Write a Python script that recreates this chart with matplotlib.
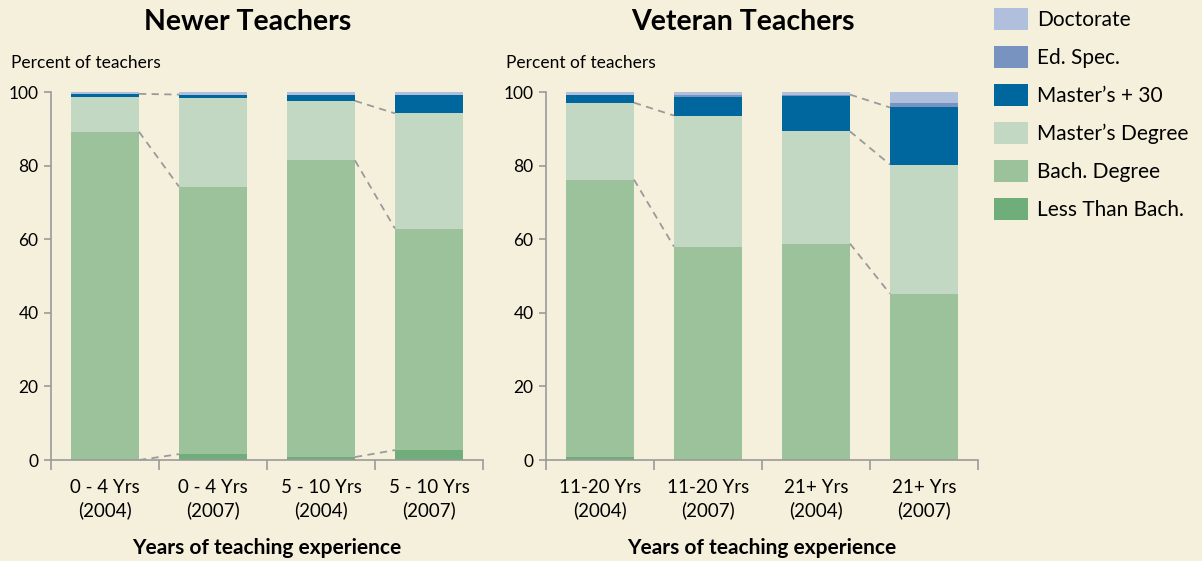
import matplotlib
matplotlib.use('Agg')
import matplotlib.pyplot as plt
from matplotlib.patches import Patch
import numpy as np

plt.rcParams['font.family'] = ['Lato', 'DejaVu Sans']

# stacking order, bottom to top
levels = ['Less Than Bach.', 'Bach. Degree', "Master\u2019s Degree",
          "Master\u2019s + 30", 'Ed. Spec.', 'Doctorate']
colors = ['#6fae7a', '#9bc29b', '#c2d8c2', '#00669e', '#7893bf', '#b0bfdb']

newer_labels = ['0 - 4 Yrs\n(2004)', '0 - 4 Yrs\n(2007)', '5 - 10 Yrs\n(2004)', '5 - 10 Yrs\n(2007)']
newer_less = [0.0, 1.6, 0.8, 2.7]
newer_bach = [89.2, 72.7, 80.6, 60.2]
newer_mast = [9.5, 24.2, 16.2, 31.3]
newer_m30 = [0.8, 0.8, 1.6, 4.9]
newer_edspec = [0.0, 0.0, 0.0, 0.0]
newer_doc = [0.5, 0.7, 0.8, 0.9]

vet_labels = ['11-20 Yrs\n(2004)', '11-20 Yrs\n(2007)', '21+ Yrs\n(2004)', '21+ Yrs\n(2007)']
vet_less = [0.8, 0.0, 0.0, 0.0]
vet_bach = [75.4, 58.0, 58.8, 45.2]
vet_mast = [20.9, 35.6, 30.5, 35.1]
vet_m30 = [2.2, 5.0, 9.5, 15.5]
vet_edspec = [0.0, 0.5, 0.5, 1.1]
vet_doc = [0.7, 0.9, 0.7, 3.1]

# dashed connectors: (from bar, cum level, to bar, cum level)
newer_links = [(0, 3, 1, 3), (0, 1, 1, 1), (0, 0, 1, 0),
               (2, 2, 3, 2), (2, 1, 3, 1), (2, 0, 3, 0)]
vet_links = [(0, 2, 1, 2), (0, 1, 1, 1),
             (2, 4, 3, 3), (2, 2, 3, 2), (2, 1, 3, 1)]

bg = '#f5f0dc'
grey = '#9a9a9a'
bw = 0.63


def draw(ax, title, labels, series, links):
    data = np.array(series)
    cum = np.cumsum(data, axis=0)
    x = np.arange(len(labels))
    bottom = np.zeros(len(labels))
    for vals, c in zip(data, colors):
        ax.bar(x, vals, bw, bottom=bottom, color=c, linewidth=0, zorder=2)
        bottom = bottom + vals
    for a, la, b, lb in links:
        ax.plot([x[a] + bw / 2, x[b] - bw / 2], [cum[la][a], cum[lb][b]],
                color=grey, ls=(0, (4, 3)), lw=1.3, zorder=3)

    ax.set_facecolor(bg)
    ax.set_xlim(-0.5, len(labels) - 0.5)
    ax.set_ylim(0, 100)
    for s in ['top', 'right']:
        ax.spines[s].set_visible(False)
    for s in ['left', 'bottom']:
        ax.spines[s].set_color(grey)
        ax.spines[s].set_linewidth(1.2)
    ax.set_yticks([0, 20, 40, 60, 80, 100])
    ax.tick_params(axis='y', length=5, width=1.2, color=grey, pad=4, labelsize=12.5)
    ax.set_xticks(np.arange(len(labels) + 1) - 0.5)
    ax.set_xticklabels([])
    ax.tick_params(axis='x', which='major', length=7, width=1.2, color=grey)
    ax.set_xticks(x, minor=True)
    ax.set_xticklabels(labels, minor=True, fontsize=13.5, linespacing=1.3)
    ax.tick_params(axis='x', which='minor', length=0, pad=14)
    ax.text(0.456, 1.19, title, transform=ax.transAxes, fontsize=20.5,
            fontweight='bold', ha='center', va='center')
    ax.set_xlabel('Years of teaching experience', fontsize=15,
                  fontweight='bold', labelpad=14)
    ax.text(-0.093, 1.08, 'Percent of teachers', transform=ax.transAxes,
            fontsize=12.5, ha='left', va='center')


fig = plt.figure(figsize=(12.02, 5.61), dpi=100, facecolor=bg)
ax1 = fig.add_axes([0.0424, 0.180, 0.3594, 0.656])
ax2 = fig.add_axes([0.4542, 0.180, 0.3594, 0.656])

draw(ax1, 'Newer Teachers', newer_labels,
     [newer_less, newer_bach, newer_mast, newer_m30, newer_edspec, newer_doc], newer_links)
draw(ax2, 'Veteran Teachers', vet_labels,
     [vet_less, vet_bach, vet_mast, vet_m30, vet_edspec, vet_doc], vet_links)

handles = [Patch(facecolor=c, edgecolor='none', label=l)
           for l, c in zip(levels[::-1], colors[::-1])]
fig.legend(handles=handles, loc='upper left', bbox_to_anchor=(0.827, 0.985),
           frameon=False, fontsize=15, handlelength=1.63, handleheight=1.2,
           labelspacing=0.78, handletextpad=0.45, borderaxespad=0, borderpad=0)

fig.savefig('out.png', dpi=100, facecolor=bg)
